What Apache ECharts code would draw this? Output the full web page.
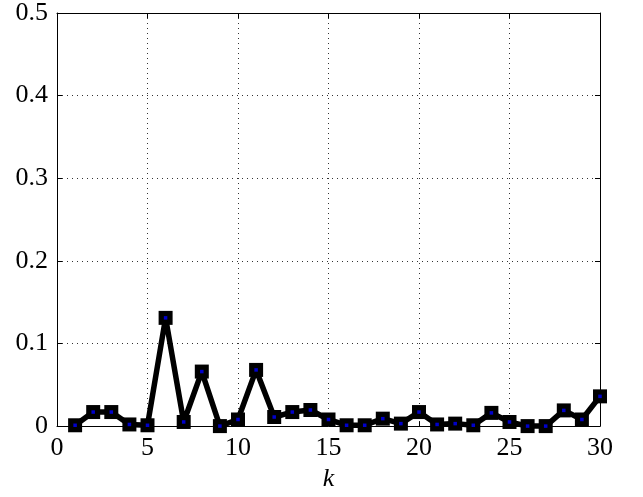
<!DOCTYPE html>
<html>
<head>
<meta charset="utf-8">
<script src="https://cdn.jsdelivr.net/npm/echarts@6/dist/echarts.min.js"></script>
<style>
  html, body { margin: 0; padding: 0; background: #fff; }
  #chart { width: 643px; height: 497px; }
</style>
</head>
<body>
<div id="chart"></div>
<script>
// Sample index k and the magnitude at each index
const kValues = [1, 2, 3, 4, 5, 6, 7, 8, 9, 10, 11, 12, 13, 14, 15,
                 16, 17, 18, 19, 20, 21, 22, 23, 24, 25, 26, 27, 28, 29, 30];
const magnitudes = [0.001, 0.017, 0.017, 0.002, 0.001, 0.131, 0.005, 0.066, 0.000, 0.008,
                    0.068, 0.011, 0.017, 0.0195, 0.008, 0.001, 0.001, 0.009, 0.003, 0.017,
                    0.002, 0.003, 0.001, 0.016, 0.005, 0.000, 0.000, 0.019, 0.008, 0.036];

// Axis ranges and tick spacing
const xTicks = [0, 5, 10, 15, 20, 25, 30];
const yTicks = [0, 0.1, 0.2, 0.3, 0.4, 0.5];
const xLabel = 'k';

const points = kValues.map((k, i) => [k, magnitudes[i]]);

const fontFamily = '"Liberation Serif", "Times New Roman", serif';
const gridLine = { show: true, lineStyle: { color: '#333', width: 1, type: [1, 4] } };

const chart = echarts.init(document.getElementById('chart'), null, { renderer: 'canvas' });

const xMin = xTicks[0], xMax = xTicks[xTicks.length - 1];
const xStep = xTicks[1] - xTicks[0];
const yMin = yTicks[0], yMax = yTicks[yTicks.length - 1];
const yStep = yTicks[1] - yTicks[0];

chart.setOption({
  animation: false,
  backgroundColor: '#fff',
  grid: { left: 57, right: 43, top: 12.5, bottom: 66, containLabel: false },
  xAxis: [
    {
      type: 'value', min: xMin, max: xMax, interval: xStep,
      name: xLabel, nameLocation: 'middle', nameGap: 35,
      nameTextStyle: { fontFamily, fontSize: 26, fontStyle: 'italic', color: '#000' },
      axisLine: { show: true, onZero: false, lineStyle: { color: '#000', width: 1 } },
      axisTick: { show: true, inside: true, length: 5, lineStyle: { color: '#000' } },
      axisLabel: { fontFamily, fontSize: 26, color: '#000', margin: 9 },
      splitLine: gridLine
    },
    {
      type: 'value', position: 'top', min: xMin, max: xMax, interval: xStep,
      axisLine: { show: true, onZero: false, lineStyle: { color: '#000', width: 1 } },
      axisTick: { show: true, inside: true, length: 5, lineStyle: { color: '#000' } },
      axisLabel: { show: false },
      splitLine: { show: false }
    }
  ],
  yAxis: [
    {
      type: 'value', min: yMin, max: yMax, interval: yStep,
      axisLine: { show: true, onZero: false, lineStyle: { color: '#000', width: 1 } },
      axisTick: { show: true, inside: true, length: 5, lineStyle: { color: '#000' } },
      axisLabel: {
        fontFamily, fontSize: 26, color: '#000', margin: 9,
        formatter: v => (v === 0 ? '0' : String(Math.round(v * 10) / 10))
      },
      splitLine: gridLine
    },
    {
      type: 'value', position: 'right', min: yMin, max: yMax, interval: yStep,
      axisLine: { show: true, onZero: false, lineStyle: { color: '#000', width: 1 } },
      axisTick: { show: true, inside: true, length: 5, lineStyle: { color: '#000' } },
      axisLabel: { show: false },
      splitLine: { show: false }
    }
  ],
  series: [
    {
      type: 'line',
      data: points,
      clip: false,
      lineStyle: { color: '#000', width: 5.5 },
      symbol: 'rect',
      symbolSize: 14,
      itemStyle: { color: '#000' },
      z: 3
    },
    {
      type: 'scatter',
      data: points,
      clip: false,
      symbol: 'rect',
      symbolSize: 3.5,
      itemStyle: { color: '#0000ff' },
      z: 4
    }
  ]
});
</script>
</body>
</html>
